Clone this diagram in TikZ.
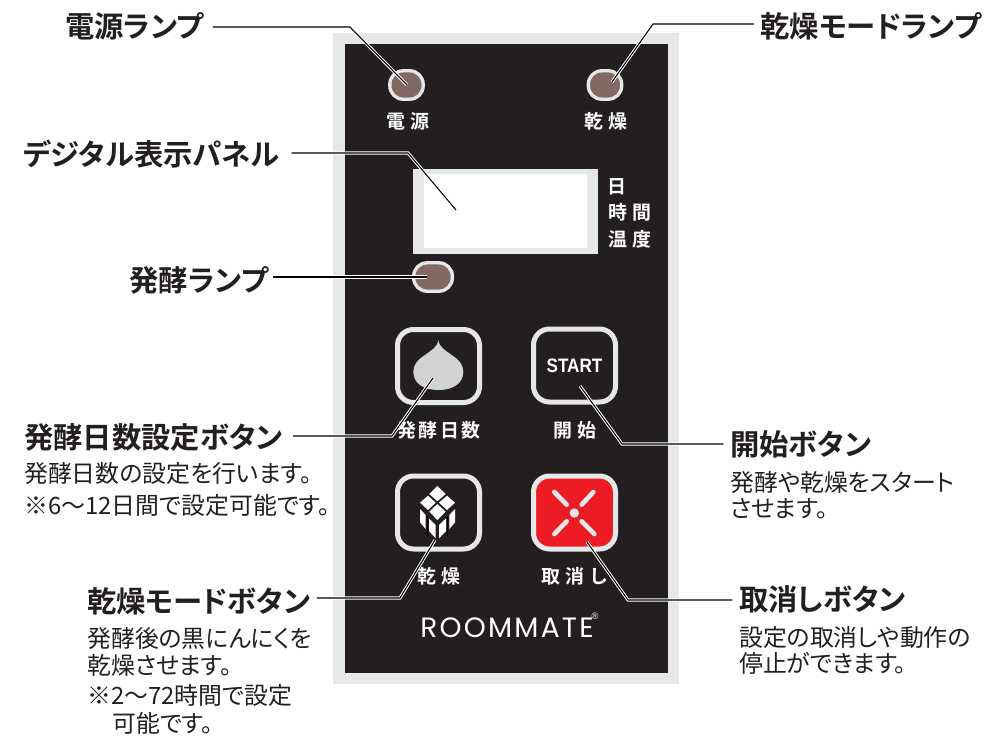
\documentclass[tikz,border=0pt]{standalone}
\usepackage{fontspec}
\setmainfont[RawFeature={+palt}]{Noto Sans CJK JP}
\newfontfamily\headfont[RawFeature={+palt}]{Noto Sans CJK JP Bold}
\newfontfamily\panelwide[LetterSpace=26]{Noto Sans CJK JP Bold}
\newfontfamily\paneltight[LetterSpace=12]{Noto Sans CJK JP Bold}
\newfontfamily\startfont[FakeStretch=.88]{Liberation Sans}
\newfontfamily\regfont{Liberation Sans}
\newfontfamily\brandfont[LetterSpace=8]{Poppins}
\definecolor{ink}{HTML}{231F20}
\definecolor{rim}{HTML}{E6E7E8}
\definecolor{lamp}{HTML}{826A63}
\definecolor{bulb}{HTML}{D1D3D4}
\definecolor{stop}{HTML}{ED1C24}
\tikzset{
  head/.style={inner sep=0pt,outer sep=5pt,text=ink,text height=19.2pt,text depth=2.8pt,font=\fontsize{22}{24}\selectfont\headfont},
  body/.style={inner sep=0pt,anchor=west,text=ink,text height=15.7pt,text depth=2.2pt,font=\fontsize{17.9}{20}\selectfont},
  plabel/.style={inner sep=0pt,text=white,text height=12.5pt,text depth=1.7pt,font=\fontsize{14.2}{16}\selectfont\panelwide},
  ptight/.style={plabel,font=\fontsize{14.2}{16}\selectfont\paneltight},
  lampnode/.style={draw=rim,fill=lamp,line width=2.5pt,rounded corners=10pt,inner sep=0pt,minimum height=21.3pt},
  keynode/.style={draw=rim,line width=3.75pt,rounded corners=12pt,inner sep=0pt,minimum width=61.5pt,minimum height=54.75pt},
  leader/.style={draw=black,line width=.8pt,miter limit=10,preaction={draw=white,line width=2.3pt}},
  xbar/.style={draw=rim,line width=3.5pt,line cap=round}
}
\begin{document}
\begin{tikzpicture}[x=.75pt,y=-.75pt]
\useasboundingbox (0,0) rectangle (989,736);
% panel
\fill[rim] (333,33) rectangle (679,684);
\fill[ink] (345,44) rectangle (668,673);
\fill[rim] (413,169) rectangle (598,254);
\node[fill=white,inner sep=0pt,minimum width=122.25pt,minimum height=55.5pt] (screen) at (505.5,211) {};
% lamps
\node[lampnode,minimum width=25pt] (lampPower) at (406.5,85) {};
\node[lampnode,minimum width=25pt] (lampDry) at (605,85) {};
\node[lampnode,minimum width=29pt] (lampFerm) at (433,277) {};
% keys
\node[keynode] (keyDays) at (438.5,366) {};
\node[keynode,text=white] (keyStart) at (574.5,365.5) {\fontsize{14.6}{16}\selectfont\startfont\bfseries START};
\node[keynode] (keyDry) at (438.5,512.5) {};
\node[keynode,fill=stop] (keyStop) at (574.5,512.5) {};
% garlic icon
\begin{scope}[shift={(370,310)},x=.25pt,y=-.25pt]
\fill[bulb] (205,90) .. controls (208,112) and (225,120) .. (245,135) .. controls (268,150) and (280,165) .. (280,185) .. controls (280,220) and (250,240) .. (205,240) .. controls (160,240) and (130,220) .. (130,185) .. controls (130,165) and (142,150) .. (165,135) .. controls (185,120) and (202,112) .. (205,90) -- cycle;
\end{scope}
% dried garlic icon
\begin{scope}[shift={(405,475)},x=.25pt,y=-.25pt]
\fill[white] (97,33) -- (122,57) -- (97,79) -- (73,57) -- cycle;
\fill[white] (69,62) -- (92,83) -- (69,105) -- (45,83) -- cycle;
\fill[white] (126,62) -- (150,83) -- (126,105) -- (102,83) -- cycle;
\fill[white] (97,87) -- (122,110) -- (97,135) -- (73,110) -- cycle;
\fill[white] (45,102) -- (62,120) -- (62,162) -- (45,142) -- cycle;
\fill[white] (150,102) -- (133,120) -- (133,162) -- (150,142) -- cycle;
\fill[white] (72,130) -- (92,150) -- (92,190) -- (72,168) -- cycle;
\fill[white] (102,150) -- (123,130) -- (123,168) -- (102,190) -- cycle;
\draw[black,line width=1.2pt] (67,122) -- (67,185) (128,122) -- (128,185);
\end{scope}
% stop icon
\begin{scope}[shift={(535,478)},x=.25pt,y=-.25pt]
\draw[xbar] (58,42) -- (95,80);
\draw[xbar] (175,42) -- (140,80);
\draw[xbar] (58,168) -- (95,130);
\draw[xbar] (178,168) -- (140,130);
\fill[rim] (118,105) circle (3.5pt);
\end{scope}
% panel labels
\node[plabel] (pPower) at (408,121) {電源};
\node[plabel] (pDry) at (606,121) {乾燥};
\node[plabel] (pDay) at (617,186) {日};
\node[plabel] (pTime) at (630,212) {時間};
\node[plabel] (pTemp) at (630,239) {温度};
\node[ptight] (pDays) at (439,430) {発酵日数};
\node[plabel] (pStart) at (575,430) {開始};
\node[plabel] (pDry2) at (439,576) {乾燥};
\node[plabel] (pStop) at (575,576) {取消し};
\node[inner sep=0pt,text=white,font=\fontsize{21}{24}\selectfont\brandfont] (brand) at (507,628) {ROOMMATE};
\node[inner sep=0pt,text=white,font=\fontsize{7}{8}\selectfont\regfont] (reg) at (595,616) {®};
% callout headings
\node[head,anchor=west,outer sep=7pt,xshift=-7pt] (hPower) at (65,27) {電源ランプ};
\node[head,anchor=east,xshift=5pt] (hDry) at (981,27) {乾燥モードランプ};
\node[head,anchor=west,outer sep=9pt,xshift=-9pt] (hDisp) at (23,155) {デジタル表示パネル};
\node[head,anchor=east,outer sep=4pt,xshift=4pt] (hFerm) at (268,281) {発酵ランプ};
\node[head,anchor=west,outer sep=8pt,xshift=-8pt] (hDays) at (24,438) {発酵日数設定ボタン};
\node[head,anchor=west,xshift=-5pt] (hStart) at (730,445) {開始ボタン};
\node[head,anchor=west,xshift=-5pt] (hDryKey) at (87,602) {乾燥モードボタン};
\node[head,anchor=west,xshift=-5pt] (hStop) at (739,600) {取消しボタン};
% descriptions
\node[body] (t1) at (24,473) {発酵日数の設定を行います。};
\node[body] (t2) at (24,505) {※6〜12日間で設定可能です。};
\node[body] (t3) at (730,482) {発酵や乾燥をスタート};
\node[body] (t4) at (730,508) {させます。};
\node[body] (t5) at (87,638) {発酵後の黒にんにくを};
\node[body] (t6) at (87,665) {乾燥させます。};
\node[body] (t7) at (87,695) {※2〜72時間で設定};
\node[body] (t8) at (112,723) {可能です。};
\node[body] (t9) at (739,637) {設定の取消しや動作の};
\node[body] (t10) at (739,663) {停止ができます。};
% connector points
\coordinate (bPower) at (350,27);   \coordinate (ePower) at (407,85);
\coordinate (bDry) at (653,24);     \coordinate (eDry) at (612,82);
\coordinate (bDisp) at (408,153);   \coordinate (eDisp) at (456,210);
\coordinate (eFerm) at (427,277);
\coordinate (bDays) at (392,436);   \coordinate (eDays) at (433,378);
\coordinate (bStart) at (622,444);  \coordinate (eStart) at (580,386);
\coordinate (bDryKey) at (400,598); \coordinate (eDryKey) at (435,540);
\coordinate (bStop) at (628,600);   \coordinate (eStop) at (587,542);
% connectors
\draw[leader] (hPower.east |- bPower) -- (bPower) -- (ePower);
\draw[leader] (hDry.west |- bDry) -- (bDry) -- (eDry);
\draw[leader] (hDisp.east |- bDisp) -- (bDisp) -- (eDisp);
\draw[leader] (hFerm.east |- eFerm) -- (eFerm);
\draw[leader] (hDays.east |- bDays) -- (bDays) -- (eDays);
\draw[leader] (hStart.west |- bStart) -- (bStart) -- (eStart);
\draw[leader] (hDryKey.east |- bDryKey) -- (bDryKey) -- (eDryKey);
\draw[leader] (hStop.west |- bStop) -- (bStop) -- (eStop);
\end{tikzpicture}
\end{document}
